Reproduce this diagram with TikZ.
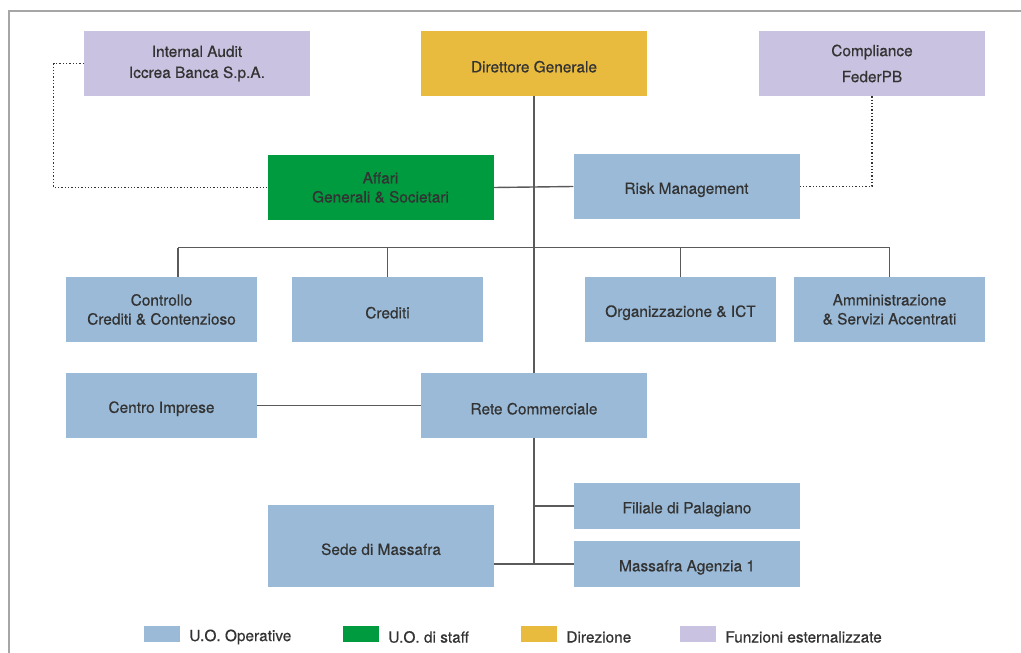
\documentclass[tikz,border=0pt]{standalone}
\usepackage{fontspec}
\setmainfont{TeX Gyre Heros}[FakeBold=0.5]
\usepackage{xcolor}
\usepackage{tikz}
\usetikzlibrary{positioning}
\definecolor{orgBlue}{HTML}{9BBAD7}
\definecolor{orgGreen}{HTML}{009A3F}
\definecolor{orgGold}{HTML}{E8BA3E}
\definecolor{orgLilac}{HTML}{C9C2E0}
\definecolor{orgInk}{HTML}{333333}
\definecolor{orgLine}{HTML}{5A5A5A}
\definecolor{orgFrame}{HTML}{A6A6A6}
\tikzset{
  org chart/.style={x=1pt, y=-1pt, font=\fontsize{15.4}{19}\selectfont,
    text=orgInk},
  org unit/.style={fill=orgBlue, align=center, inner sep=0pt,
    minimum width=226pt, minimum height=65pt,
    execute at begin node={\rule{0pt}{18pt}}},
  org narrow/.style={org unit, minimum width=191pt},
  org staff/.style={org unit, fill=orgGreen},
  org head/.style={org unit, fill=orgGold},
  org ext/.style={org unit, fill=orgLilac},
  org link/.style={draw=orgLine, line width=1.4pt},
  org dotted/.style={draw=orgInk, line width=1.3pt, dotted},
  org key/.style={minimum width=36pt, minimum height=16pt, inner sep=0pt},
  org key label/.style={inner sep=0pt, yshift=-3pt}
}

\begin{document}
\begin{tikzpicture}[org chart]
\useasboundingbox (0,0) rectangle (1021,653);
\draw[orgFrame, line width=1.5pt] (9,653) -- (9,11) -- (1021,11);
% top row
\node[org ext] (audit) at (197,63.5) {Internal Audit\\[2pt]Iccrea Banca S.p.A.};
\node[org head] (dg) at (534,63.5) {Direttore Generale};
\node[org ext] (compliance) at (872,63.5) {Compliance\\[7pt]FederPB};
% staff
\node[org staff] (affari) at (380.5,187.5) {Affari\\Generali \& Societari};
\node[org unit] (risk) at (686.5,186.5) {Risk Management};
% operative units
\node[org narrow] (controllo) at (161.5,309.5) {Controllo\\Crediti \& Contenzioso};
\node[org narrow] (crediti) at (387.5,309.5) {Crediti};
\node[org narrow] (ict) at (680.5,309.5) {Organizzazione \& ICT};
\node[org narrow] (amm) at (889.5,309.5) {Amministrazione\\\& Servizi Accentrati};
\node[org narrow] (imprese) at (161.5,405.5) {Centro Imprese};
\node[org unit] (rete) at (534,405.5) {Rete Commerciale};
% branches
\node[org unit, minimum height=46pt] (palagiano) at (687,506) {Filiale di Palagiano};
\node[org unit, minimum height=46pt] (agenzia) at (687,564) {Massafra Agenzia 1};
\node[org unit, minimum height=82pt] (sede) at (381,546) {Sede di Massafra};

\coordinate (bus) at (534,247.5);
\coordinate (bus west) at (178,247.5);
\coordinate (branch) at (534,564);

\draw[org link] (dg.south) -- (rete.north);
\draw[org link] (affari.east) -- (risk.west);
\draw[org link] (bus west) -- (amm.north |- bus);
\draw[org link] (bus west) -- (bus west |- controllo.north);
\foreach \n in {crediti,ict,amm}
  \draw[org link] (\n.north |- bus) -- (\n.north);
\draw[org link] (imprese.east) -- (rete.west);
\draw[org link] (rete.south) -- (branch);
\draw[org link] (branch |- palagiano.west) -- (palagiano.west);
\draw[org link] (sede.east |- branch) -- (agenzia.west);
% outsourced functions
\draw[org dotted] (audit.west) -- ++(-30,0) |- (affari.west);
\draw[org dotted] (compliance.south) |- (risk.east);

% legend
\node[org key, fill=orgBlue] (key op) at (162,634) {};
\node[org key label, right=9pt of key op] (label op) {U.O. Operative};
\node[org key, fill=orgGreen] (key staff) at (361,634) {};
\node[org key label, right=9pt of key staff] (label staff) {U.O. di staff};
\node[org key, fill=orgGold] (key head) at (539,634) {};
\node[org key label, right=9pt of key head] (label head) {Direzione};
\node[org key, fill=orgLilac] (key ext) at (698,634) {};
\node[org key label, right=9pt of key ext] (label ext) {Funzioni esternalizzate};
\end{tikzpicture}
\end{document}
